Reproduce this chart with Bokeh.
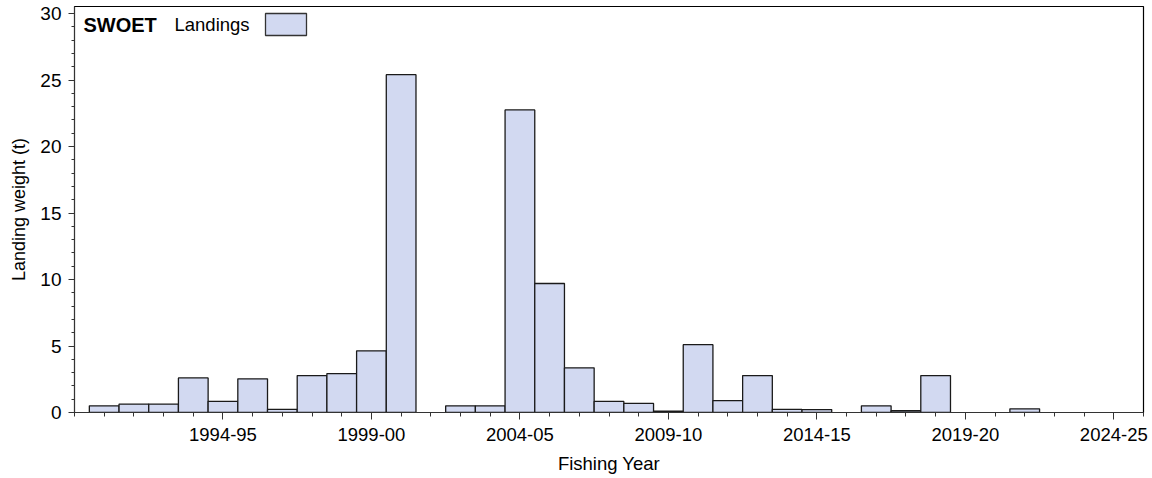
from bokeh.plotting import figure
from bokeh.models import (Range1d, FixedTicker, Label, BoxAnnotation, ColumnDataSource)
from bokeh.embed import file_html
from bokeh.resources import INLINE

# ---- data ----
fishing_years = ["1990-91", "1991-92", "1992-93", "1993-94", "1994-95", "1995-96",
                 "1996-97", "1997-98", "1998-99", "1999-00", "2000-01",
                 "2002-03", "2003-04", "2004-05", "2005-06", "2006-07", "2007-08",
                 "2008-09", "2009-10", "2010-11", "2011-12", "2012-13", "2013-14",
                 "2014-15", "2016-17", "2017-18", "2018-19", "2021-22"]
landings = [0.5, 0.63, 0.63, 2.6, 0.83, 2.53,
            0.23, 2.78, 2.93, 4.64, 25.4,
            0.5, 0.5, 22.75, 9.7, 3.36, 0.83,
            0.68, 0.1, 5.1, 0.9, 2.78, 0.23,
            0.22, 0.5, 0.13, 2.78, 0.28]
tick_labels = ["1994-95", "1999-00", "2004-05", "2009-10", "2014-15", "2019-20", "2024-25"]
y_ticks = [0, 5, 10, 15, 20, 25, 30]

x_start = [int(s[:4]) for s in fishing_years]
src = ColumnDataSource(data=dict(x=x_start, top=landings, label=fishing_years))

FONT = "Liberation Sans"
FILL = "#D2D9F1"
EDGE = "#1a1a1a"
W, H = 1152, 478
BL, BR, BT, BB = 74, 9, 6, 66

p = figure(width=W, height=H, output_backend="svg", toolbar_location=None,
           x_range=Range1d(1989, 2025), y_range=Range1d(0, 30.53),
           min_border_left=BL, min_border_right=BR, min_border_top=BT, min_border_bottom=BB)

r = p.vbar(x="x", top="top", bottom=0, width=1.0, source=src,
           fill_color=FILL, line_color=EDGE, line_width=1.3)

p.xgrid.visible = False
p.ygrid.visible = False
p.outline_line_color = "black"
p.outline_line_width = 1.2
p.outline_line_alpha = 1.0
p.background_fill_color = "white"
p.border_fill_color = "white"

tick_pos = [int(t[:4]) for t in tick_labels]
p.xaxis.ticker = FixedTicker(ticks=tick_pos, minor_ticks=list(range(1989, 2026)))
p.xaxis.major_label_overrides = {t: l for t, l in zip(tick_pos, tick_labels)}
p.yaxis.ticker = FixedTicker(ticks=y_ticks, minor_ticks=list(range(0, 31)))

for ax in (p.xaxis[0], p.yaxis[0]):
    ax.axis_line_color = "#333333"
    ax.major_tick_line_color = "#333333"
    ax.minor_tick_line_color = "#333333"
    ax.major_label_text_font = FONT
    ax.major_label_text_font_size = "18.5px"
    ax.major_label_text_color = "black"
    ax.axis_label_text_font = FONT
    ax.axis_label_text_font_style = "normal"
    ax.axis_label_text_color = "black"

p.xaxis.axis_label = "Fishing Year"
p.xaxis.axis_label_text_font_size = "18.5px"
p.xaxis.major_tick_out = 7
p.xaxis.major_tick_in = 0
p.xaxis.minor_tick_out = 4
p.xaxis.minor_tick_in = 0
p.xaxis.major_label_standoff = 8
p.xaxis.axis_label_standoff = 9

p.yaxis.axis_label = "Landing weight (t)"
p.yaxis.axis_label_text_font_size = "18px"
p.yaxis.major_label_text_font_size = "19px"
p.yaxis.major_tick_out = 6
p.yaxis.major_tick_in = 0
p.yaxis.minor_tick_out = 3
p.yaxis.minor_tick_in = 0
p.yaxis.major_label_standoff = 7
p.yaxis.axis_label_standoff = 8

# legend-like header (frame-relative screen units)
fh = H - BT - BB
p.add_layout(Label(x=9, y=fh - 7, x_units="screen", y_units="screen", text="SWOET",
                   text_font=FONT, text_font_size="20px", text_font_style="bold",
                   text_baseline="top", text_color="black"))
p.add_layout(Label(x=100, y=fh - 7, x_units="screen", y_units="screen", text="Landings",
                   text_font=FONT, text_font_size="18.5px", text_baseline="top",
                   text_color="black"))
p.add_layout(BoxAnnotation(left=191, right=232, top=fh - 7, bottom=fh - 29,
                           left_units="screen", right_units="screen",
                           top_units="screen", bottom_units="screen",
                           fill_color=FILL, fill_alpha=1.0,
                           line_color="#333333", line_alpha=1.0, line_width=1.3))

open("out.html", "w").write(file_html(p, INLINE))
